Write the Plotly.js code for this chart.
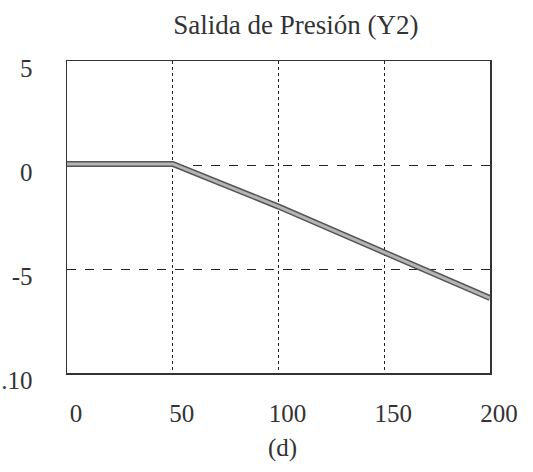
<!DOCTYPE html>
<html><head><meta charset="utf-8">
<script src="https://cdn.plot.ly/plotly-3.0.1.min.js"></script>
<style>html,body{margin:0;padding:0;background:#fff}#c{width:533px;height:472px}</style>
</head><body><div id="c"></div>
<script>
const xValues = [0, 50, 100, 150, 200];
const yValues = [0.05, 0.05, -2.0, -4.2, -6.4];
const xTicks = [0, 50, 100, 150, 200];
const xTickText = ['0', '50', '100', '150', '200'];
const yTicks = [5, 0, -5, -10];
const yTickText = ['5', '0', '-5', '.10'];
const titleText = 'Salida de Presión (Y2)';
const captionText = '(d)';

const font = {family: '"Liberation Serif", "DejaVu Serif", serif', color: '#333', size: 25};
const traces = [
  {x: xValues, y: yValues, mode: 'lines', line: {color: '#555', width: 6}, hoverinfo: 'skip'},
  {x: xValues, y: yValues, mode: 'lines', line: {color: '#b5b5b5', width: 3}, hoverinfo: 'skip'}
];
const layout = {
  width: 533, height: 472,
  margin: {l: 67, r: 43, t: 61, b: 99},
  showlegend: false,
  paper_bgcolor: '#fff', plot_bgcolor: '#fff',
  font: font,
  title: {text: titleText, font: {family: font.family, size: 27, color: '#333'}, x: 0.555, xanchor: 'center', y: 0.947, yanchor: 'middle'},
  xaxis: {range: [0, 200], tickvals: xTicks, ticktext: xTickText, showgrid: true,
    gridcolor: '#222', griddash: 'dot', gridwidth: 1, zeroline: false,
    showline: true, linecolor: '#333', linewidth: 1.5, mirror: true, ticks: '',
    ticklabelstandoff: 17, ticklabelshift: 9, tickfont: font},
  yaxis: {range: [-10, 5], tickvals: yTicks, ticktext: yTickText, showgrid: true,
    gridcolor: '#222', griddash: 'dash', gridwidth: 1, zeroline: false,
    showline: true, linecolor: '#333', linewidth: 1.5, mirror: true, ticks: '',
    ticklabelstandoff: 28, ticklabelshift: 7, tickfont: font},
  annotations: [{text: captionText, xref: 'paper', yref: 'paper', x: 0.51, y: -0.24,
    xanchor: 'center', yanchor: 'middle', showarrow: false, font: font}]
};
Plotly.newPlot('c', traces, layout, {staticPlot: true});
</script></body></html>
